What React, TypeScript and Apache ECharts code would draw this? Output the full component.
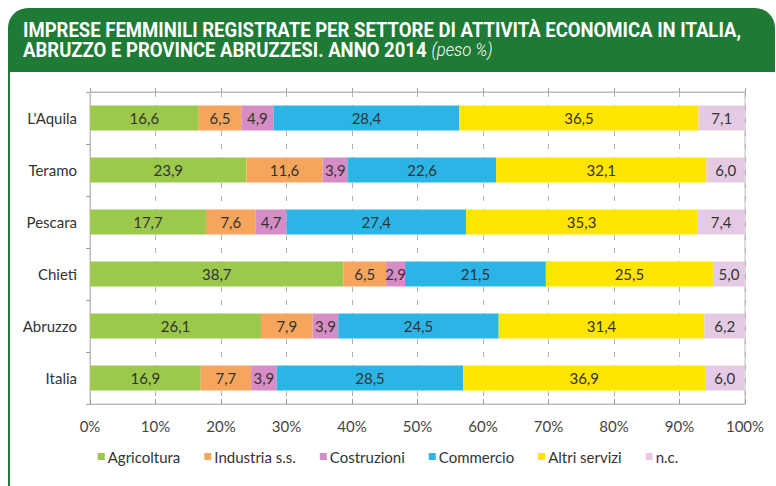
import React, { useEffect, useRef } from "react";
import * as echarts from "echarts";

const categories = ["L'Aquila", "Teramo", "Pescara", "Chieti", "Abruzzo", "Italia"];
const seriesNames = ["Agricoltura", "Industria s.s.", "Costruzioni", "Commercio", "Altri servizi", "n.c."];
const agricoltura = [16.6, 23.9, 17.7, 38.7, 26.1, 16.9];
const industria = [6.5, 11.6, 7.6, 6.5, 7.9, 7.7];
const costruzioni = [4.9, 3.9, 4.7, 2.9, 3.9, 3.9];
const commercio = [28.4, 22.6, 27.4, 21.5, 24.5, 28.5];
const altriServizi = [36.5, 32.1, 35.3, 25.5, 31.4, 36.9];
const nc = [7.1, 6.0, 7.4, 5.0, 6.2, 6.0];
const seriesValues = [agricoltura, industria, costruzioni, commercio, altriServizi, nc];
const seriesColors = ["#9cc84b", "#f5a65c", "#d68cc4", "#2db4e6", "#ffe500", "#e4cbe3"];

const titleLine1 = "IMPRESE FEMMINILI REGISTRATE PER SETTORE DI ATTIVITÀ ECONOMICA IN ITALIA,";
const titleLine2a = "ABRUZZO E PROVINCE ABRUZZESI. ANNO 2014 ";
const titleLine2b = "(peso %)";

const BODY_FONT = "Lato, 'Open Sans', sans-serif";
const TITLE_FONT = "Roboto, 'DejaVu Sans', sans-serif";
const GREEN = "#1e7a35";

function measure(text: string, font: string): number {
  const c = document.createElement("canvas");
  const ctx = c.getContext("2d");
  if (!ctx) return text.length * 10;
  ctx.font = font;
  return ctx.measureText(text).width;
}

export default function App() {
  const ref = useRef<HTMLDivElement>(null);
  useEffect(() => {
    if (!ref.current) return;
    const chart = echarts.init(ref.current, undefined, { renderer: "svg" });
    const titleFontSize = 20;
    const w1 = measure(titleLine1, `bold ${titleFontSize}px Roboto`);
    const sx = 719 / w1;

    const fmt = (v: number) => v.toFixed(1).replace(".", ",");

    chart.setOption({
      animation: false,
      backgroundColor: "#ffffff",
      textStyle: { fontFamily: BODY_FONT },
      graphic: [
        {
          type: "rect",
          shape: { x: 8, y: 8, width: 767, height: 64, r: [20, 20, 0, 0] },
          style: { fill: GREEN },
          silent: true,
        },
        {
          type: "line",
          shape: { x1: 9, y1: 70, x2: 9, y2: 486 },
          style: { stroke: GREEN, lineWidth: 2 },
          silent: true,
        },
        {
          type: "text",
          x: 23,
          y: 30,
          scaleX: sx,
          style: {
            text: titleLine1,
            fill: "#ffffff",
            font: `bold ${titleFontSize}px Roboto`,
            verticalAlign: "middle",
          },
        },
        {
          type: "text",
          x: 23,
          y: 50,
          scaleX: sx,
          style: {
            text: `{b|${titleLine2a}}{i|${titleLine2b}}`,
            fill: "#ffffff",
            verticalAlign: "middle",
            rich: {
              b: { fontFamily: TITLE_FONT, fontWeight: "bold", fontSize: titleFontSize, fill: "#ffffff", color: "#ffffff" },
              i: { fontFamily: TITLE_FONT, fontStyle: "italic", fontWeight: 300, fontSize: 18, fill: "#ffffff", color: "#ffffff" },
            },
          },
        },
      ],
      grid: { left: 90, right: 31, top: 92, bottom: 82, show: true, borderColor: "#bdbdbd", borderWidth: 1 },
      legend: {
        bottom: 17,
        left: "center",
        icon: "rect",
        itemWidth: 7,
        itemHeight: 7,
        itemGap: 24,
        data: seriesNames,
        textStyle: { fontFamily: BODY_FONT, fontSize: 15, color: "#333333", padding: [0, 0, 0, -2] },
      },
      xAxis: [
        {
          type: "value",
          min: 0,
          max: 100,
          interval: 10,
          position: "bottom",
          axisLine: { show: true, lineStyle: { color: "#bdbdbd" } },
          axisTick: { show: true, inside: true, length: 5, lineStyle: { color: "#9e9e9e" } },
          axisLabel: { formatter: (v: number) => `${v}%`, fontFamily: BODY_FONT, fontSize: 15, color: "#444444", margin: 14 },
          splitLine: { show: true, lineStyle: { color: "#b0b0b0", type: [5, 8], width: 1 } },
        },
        {
          type: "value",
          min: 0,
          max: 100,
          interval: 10,
          position: "top",
          axisLine: { show: true, lineStyle: { color: "#bdbdbd" } },
          axisTick: { show: true, inside: false, length: 4, lineStyle: { color: "#9e9e9e" } },
          axisLabel: { show: false },
          splitLine: { show: false },
        },
      ],
      yAxis: {
        type: "category",
        inverse: true,
        data: categories,
        axisLine: { show: true, lineStyle: { color: "#bdbdbd" } },
        axisTick: { show: true, length: 4, lineStyle: { color: "#9e9e9e" } },
        axisLabel: { fontFamily: BODY_FONT, fontSize: 15, color: "#333333", margin: 13 },
      },
      series: seriesNames.map((name, i) => ({
        name,
        type: "bar",
        stack: "total",
        barWidth: 25,
        xAxisIndex: 0,
        itemStyle: { color: seriesColors[i] },
        label: {
          show: true,
          position: "inside",
          formatter: (p: any) => fmt(p.value),
          fontFamily: BODY_FONT,
          fontSize: 15,
          color: "#333333",
        },
        data: seriesValues[i],
      })),
    });
    return () => chart.dispose();
  }, []);
  return <div ref={ref} style={{ width: 776, height: 486, position: "absolute", left: 0, top: 0 }} />;
}
